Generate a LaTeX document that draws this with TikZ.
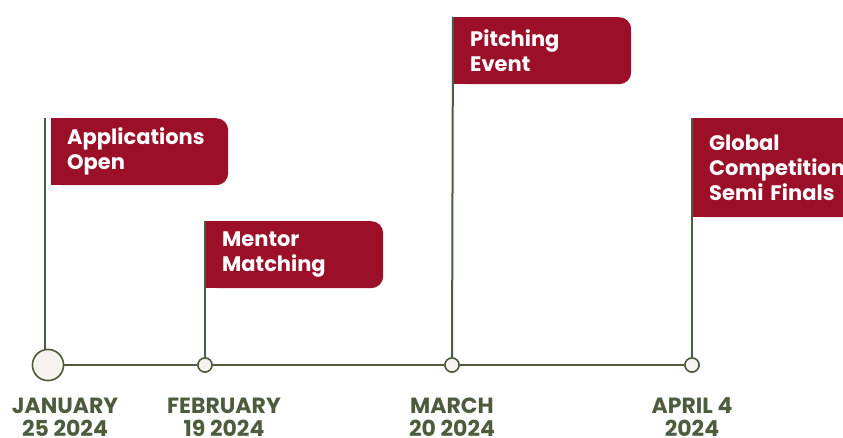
\documentclass[tikz,border=0pt]{standalone}
\usepackage{fontspec}
\setmainfont{Poppins}
\definecolor{flagred}{HTML}{9B1028}
\definecolor{linegreen}{HTML}{4E5C3E}
\definecolor{dotfill}{HTML}{F6F3EE}
\tikzset{
  dot/.style={circle, draw=linegreen, fill=dotfill, line width=1.5pt, minimum size=14pt, inner sep=0pt},
  bigdot/.style={dot, minimum size=31pt},
  pole/.style={draw=linegreen, line width=2pt},
  flag/.style={fill=flagred, text=white, rounded corners=12pt, anchor=north west, align=left,
    inner xsep=16pt, inner ysep=0pt, minimum height=67pt, text width=145pt,
    font=\bfseries\fontsize{21}{25}\selectfont},
  datelabel/.style={text=linegreen, align=center, font=\bfseries\fontsize{22}{23}\selectfont}
}
\begin{document}
\begin{tikzpicture}[x=1pt,y=-1pt]
                \useasboundingbox (0,0) rectangle (843,438);
                \clip (0,0) rectangle (843,438);
                % timeline
                \node[bigdot] (d1) at (48,365) {};
                \node[dot] (d2) at (205,365) {};
                \node[dot] (d3) at (452,365) {};
                \node[dot] (d4) at (692,365) {};
                \draw[pole] (d1) -- (d2) -- (d3) -- (d4);
                % poles
                \coordinate (t1) at (45,118);
                \coordinate (t2) at (205,221);
                \coordinate (t3) at (453,17);
                \coordinate (t4) at (692,118);
                \draw[pole] (d1.north -| t1) -- (t1);
                \draw[pole] (d2) -- (t2);
                \draw[pole] (d3) -- (t3);
                \draw[pole] (d4) -- (t4);
                \node[bigdot] at (d1) {};
                \node[dot] at (d2) {};
                \node[dot] at (d3) {};
                \node[dot] at (d4) {};
                % flags
                \node[flag] (f1) at (51,118) {Applications\\Open};
                \node[flag] (f2) at (206,221) {Mentor\\Matching};
                \node[flag] (f3) at (454,17) {Pitching\\Event};
                \node[flag, minimum height=99pt] (f4) at (693,118) {Global\\Competition\\Semi Finals};
                \foreach \f in {f1,f2,f3,f4}
                    \fill[flagred] (\f.north west) rectangle ([xshift=12pt]\f.south west);
                % dates
                \node[datelabel] (l1) at (65,417) {JANUARY\\25 2024};
                \node[datelabel] (l2) at (224,417) {FEBRUARY\\19 2024};
                \node[datelabel] (l3) at (452,417) {MARCH\\20 2024};
                \node[datelabel] (l4) at (692,417) {APRIL 4\\2024};
            \end{tikzpicture}
\end{document}
